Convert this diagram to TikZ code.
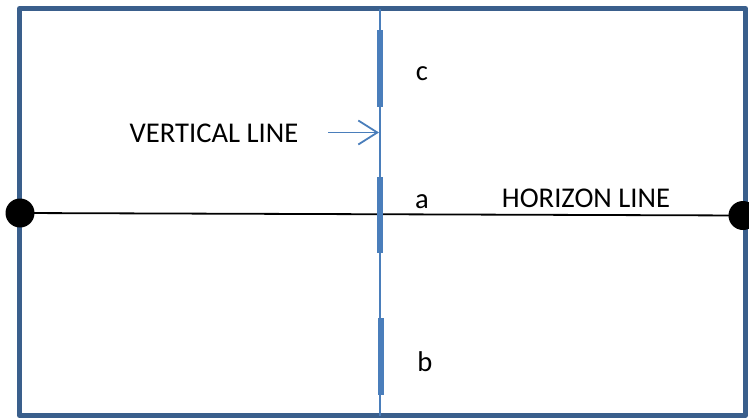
\documentclass[tikz,border=0pt]{standalone}
\usepackage{fontspec}
\setmainfont{Carlito}
\usetikzlibrary{arrows.meta}
\definecolor{frameblue}{HTML}{3A5F8C}
\definecolor{lineblue}{HTML}{4A7EBB}
\begin{document}
\begin{tikzpicture}[x=1pt,y=-1pt,
  frame/.style={draw=frameblue,line width=5pt,line join=round},
  vline/.style={draw=lineblue,line width=1.8pt},
  seg/.style={draw=lineblue,line width=6.5pt},
  hline/.style={draw=black,line width=1.8pt},
  dot/.style={circle,fill=black,minimum size=29pt,inner sep=0pt},
  lbl/.style={font=\fontsize{28.6}{30}\selectfont,anchor=base,inner sep=0pt},
  pointer/.style={draw=lineblue,line width=1.8pt,-{Straight Barb[length=19pt,width=24pt,line width=1.8pt]}}]
\useasboundingbox (0,0) rectangle (749,418);
\draw[frame] (19.5,8.5) rectangle (745.5,415.5);
\coordinate (vtop) at (380,8.5);
\coordinate (vbot) at (380,415.5);
\draw[vline] (vtop) -- (vbot);
\node[dot] (L) at (20,213) {};
\node[dot] (R) at (743,215.5) {};
\draw[hline] (L.center) -- (R.center);
\coordinate (c1) at (380,30);
\coordinate (c2) at (380,107);
\draw[seg] (c1) -- (c2);
\coordinate (a1) at (380,177);
\coordinate (a2) at (380,253);
\draw[seg] (a1) -- (a2);
\coordinate (b1) at (381,318);
\coordinate (b2) at (381,395);
\draw[seg] (b1) -- (b2);
\node[lbl] (tc) at (422,80) {c};
\node[lbl] (ta) at (422,208) {a};
\node[lbl] (tb) at (425,371) {b};
\node[lbl] (tv) at (214,142) {VERTICAL LINE};
\node[lbl] (th) at (586,207) {HORIZON LINE};
\coordinate (ps) at (328,132.5);
\coordinate (pe) at (379,132.5);
\draw[pointer] (ps) -- (pe);
\end{tikzpicture}
\end{document}
